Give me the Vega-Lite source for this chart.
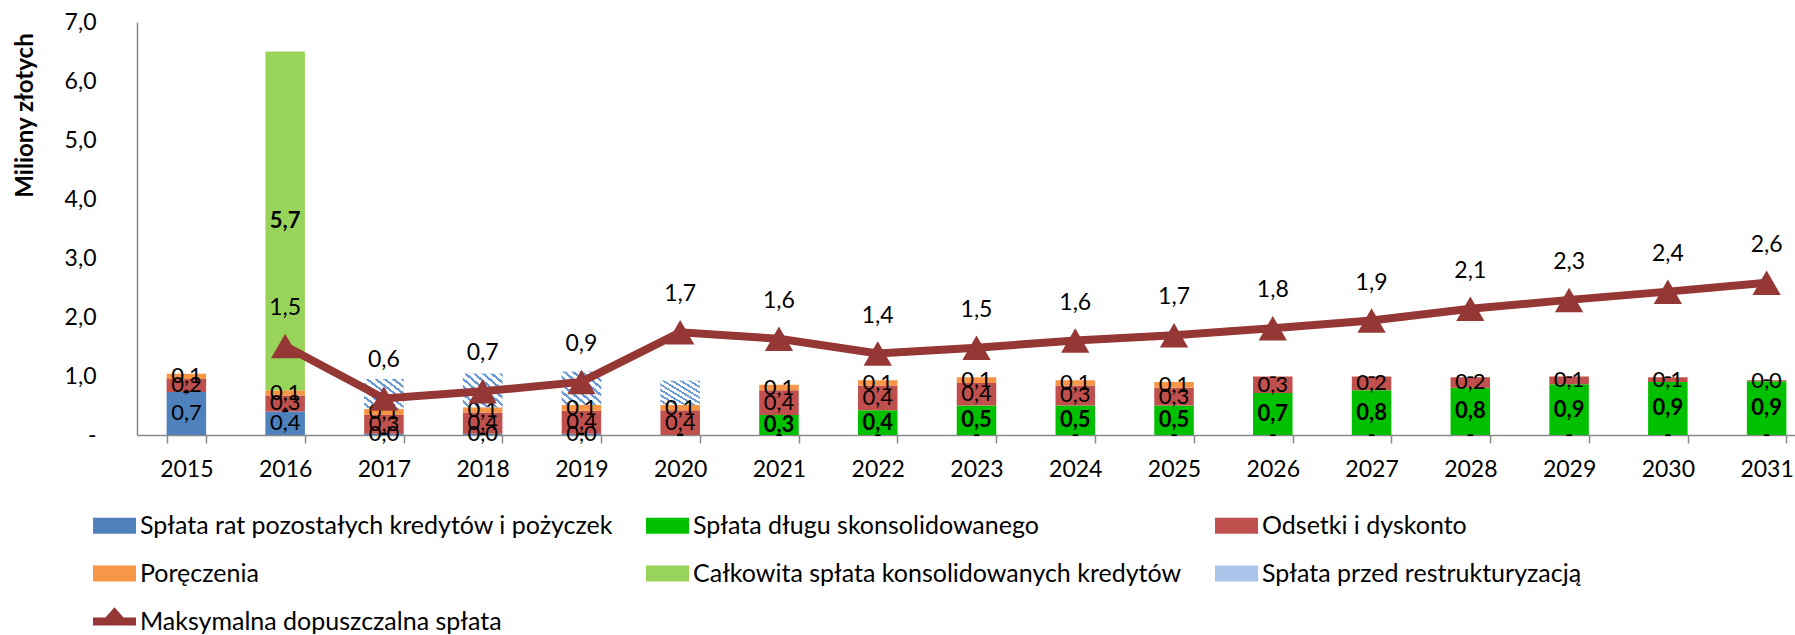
{
  "$schema": "https://vega.github.io/schema/vega-lite/v6.json",
  "width": 1658,
  "height": 413,
  "autosize": {"type": "none"},
  "padding": {"left": 137, "top": 22, "right": 0, "bottom": 200},
  "config": {
    "view": {"stroke": null},
    "font": "Lato",
    "locale": {"number": {"decimal": ",", "thousands": " ", "grouping": [3], "currency": ["", " zł"]}}
  },
  "datasets": {
    "bars": [
      {"year": "2015", "series": "Spłata rat pozostałych kredytów i pożyczek", "ord": 1, "value": 0.73},
      {"year": "2015", "series": "Spłata długu skonsolidowanego", "ord": 2, "value": 0},
      {"year": "2015", "series": "Odsetki i dyskonto", "ord": 3, "value": 0.22},
      {"year": "2015", "series": "Poręczenia", "ord": 4, "value": 0.09},
      {"year": "2015", "series": "Całkowita spłata konsolidowanych kredytów", "ord": 5, "value": 0},
      {"year": "2015", "series": "Spłata przed restrukturyzacją", "ord": 6, "value": 0},
      {"year": "2016", "series": "Spłata rat pozostałych kredytów i pożyczek", "ord": 1, "value": 0.4},
      {"year": "2016", "series": "Spłata długu skonsolidowanego", "ord": 2, "value": 0},
      {"year": "2016", "series": "Odsetki i dyskonto", "ord": 3, "value": 0.27},
      {"year": "2016", "series": "Poręczenia", "ord": 4, "value": 0.09},
      {"year": "2016", "series": "Całkowita spłata konsolidowanych kredytów", "ord": 5, "value": 5.74},
      {"year": "2016", "series": "Spłata przed restrukturyzacją", "ord": 6, "value": 0},
      {"year": "2017", "series": "Spłata rat pozostałych kredytów i pożyczek", "ord": 1, "value": 0.02},
      {"year": "2017", "series": "Spłata długu skonsolidowanego", "ord": 2, "value": 0},
      {"year": "2017", "series": "Odsetki i dyskonto", "ord": 3, "value": 0.32},
      {"year": "2017", "series": "Poręczenia", "ord": 4, "value": 0.1},
      {"year": "2017", "series": "Całkowita spłata konsolidowanych kredytów", "ord": 5, "value": 0},
      {"year": "2017", "series": "Spłata przed restrukturyzacją", "ord": 6, "value": 0.51},
      {"year": "2018", "series": "Spłata rat pozostałych kredytów i pożyczek", "ord": 1, "value": 0.02},
      {"year": "2018", "series": "Spłata długu skonsolidowanego", "ord": 2, "value": 0},
      {"year": "2018", "series": "Odsetki i dyskonto", "ord": 3, "value": 0.36},
      {"year": "2018", "series": "Poręczenia", "ord": 4, "value": 0.09},
      {"year": "2018", "series": "Całkowita spłata konsolidowanych kredytów", "ord": 5, "value": 0},
      {"year": "2018", "series": "Spłata przed restrukturyzacją", "ord": 6, "value": 0.57},
      {"year": "2019", "series": "Spłata rat pozostałych kredytów i pożyczek", "ord": 1, "value": 0.02},
      {"year": "2019", "series": "Spłata długu skonsolidowanego", "ord": 2, "value": 0},
      {"year": "2019", "series": "Odsetki i dyskonto", "ord": 3, "value": 0.39},
      {"year": "2019", "series": "Poręczenia", "ord": 4, "value": 0.1},
      {"year": "2019", "series": "Całkowita spłata konsolidowanych kredytów", "ord": 5, "value": 0},
      {"year": "2019", "series": "Spłata przed restrukturyzacją", "ord": 6, "value": 0.56},
      {"year": "2020", "series": "Spłata rat pozostałych kredytów i pożyczek", "ord": 1, "value": 0},
      {"year": "2020", "series": "Spłata długu skonsolidowanego", "ord": 2, "value": 0},
      {"year": "2020", "series": "Odsetki i dyskonto", "ord": 3, "value": 0.42},
      {"year": "2020", "series": "Poręczenia", "ord": 4, "value": 0.09},
      {"year": "2020", "series": "Całkowita spłata konsolidowanych kredytów", "ord": 5, "value": 0},
      {"year": "2020", "series": "Spłata przed restrukturyzacją", "ord": 6, "value": 0.41},
      {"year": "2021", "series": "Spłata rat pozostałych kredytów i pożyczek", "ord": 1, "value": 0},
      {"year": "2021", "series": "Spłata długu skonsolidowanego", "ord": 2, "value": 0.34},
      {"year": "2021", "series": "Odsetki i dyskonto", "ord": 3, "value": 0.42},
      {"year": "2021", "series": "Poręczenia", "ord": 4, "value": 0.09},
      {"year": "2021", "series": "Całkowita spłata konsolidowanych kredytów", "ord": 5, "value": 0},
      {"year": "2021", "series": "Spłata przed restrukturyzacją", "ord": 6, "value": 0},
      {"year": "2022", "series": "Spłata rat pozostałych kredytów i pożyczek", "ord": 1, "value": 0},
      {"year": "2022", "series": "Spłata długu skonsolidowanego", "ord": 2, "value": 0.42},
      {"year": "2022", "series": "Odsetki i dyskonto", "ord": 3, "value": 0.42},
      {"year": "2022", "series": "Poręczenia", "ord": 4, "value": 0.09},
      {"year": "2022", "series": "Całkowita spłata konsolidowanych kredytów", "ord": 5, "value": 0},
      {"year": "2022", "series": "Spłata przed restrukturyzacją", "ord": 6, "value": 0},
      {"year": "2023", "series": "Spłata rat pozostałych kredytów i pożyczek", "ord": 1, "value": 0},
      {"year": "2023", "series": "Spłata długu skonsolidowanego", "ord": 2, "value": 0.5},
      {"year": "2023", "series": "Odsetki i dyskonto", "ord": 3, "value": 0.38},
      {"year": "2023", "series": "Poręczenia", "ord": 4, "value": 0.1},
      {"year": "2023", "series": "Całkowita spłata konsolidowanych kredytów", "ord": 5, "value": 0},
      {"year": "2023", "series": "Spłata przed restrukturyzacją", "ord": 6, "value": 0},
      {"year": "2024", "series": "Spłata rat pozostałych kredytów i pożyczek", "ord": 1, "value": 0},
      {"year": "2024", "series": "Spłata długu skonsolidowanego", "ord": 2, "value": 0.5},
      {"year": "2024", "series": "Odsetki i dyskonto", "ord": 3, "value": 0.34},
      {"year": "2024", "series": "Poręczenia", "ord": 4, "value": 0.09},
      {"year": "2024", "series": "Całkowita spłata konsolidowanych kredytów", "ord": 5, "value": 0},
      {"year": "2024", "series": "Spłata przed restrukturyzacją", "ord": 6, "value": 0},
      {"year": "2025", "series": "Spłata rat pozostałych kredytów i pożyczek", "ord": 1, "value": 0},
      {"year": "2025", "series": "Spłata długu skonsolidowanego", "ord": 2, "value": 0.5},
      {"year": "2025", "series": "Odsetki i dyskonto", "ord": 3, "value": 0.3},
      {"year": "2025", "series": "Poręczenia", "ord": 4, "value": 0.1},
      {"year": "2025", "series": "Całkowita spłata konsolidowanych kredytów", "ord": 5, "value": 0},
      {"year": "2025", "series": "Spłata przed restrukturyzacją", "ord": 6, "value": 0},
      {"year": "2026", "series": "Spłata rat pozostałych kredytów i pożyczek", "ord": 1, "value": 0},
      {"year": "2026", "series": "Spłata długu skonsolidowanego", "ord": 2, "value": 0.71},
      {"year": "2026", "series": "Odsetki i dyskonto", "ord": 3, "value": 0.28},
      {"year": "2026", "series": "Poręczenia", "ord": 4, "value": 0},
      {"year": "2026", "series": "Całkowita spłata konsolidowanych kredytów", "ord": 5, "value": 0},
      {"year": "2026", "series": "Spłata przed restrukturyzacją", "ord": 6, "value": 0},
      {"year": "2027", "series": "Spłata rat pozostałych kredytów i pożyczek", "ord": 1, "value": 0},
      {"year": "2027", "series": "Spłata długu skonsolidowanego", "ord": 2, "value": 0.76},
      {"year": "2027", "series": "Odsetki i dyskonto", "ord": 3, "value": 0.23},
      {"year": "2027", "series": "Poręczenia", "ord": 4, "value": 0},
      {"year": "2027", "series": "Całkowita spłata konsolidowanych kredytów", "ord": 5, "value": 0},
      {"year": "2027", "series": "Spłata przed restrukturyzacją", "ord": 6, "value": 0},
      {"year": "2028", "series": "Spłata rat pozostałych kredytów i pożyczek", "ord": 1, "value": 0},
      {"year": "2028", "series": "Spłata długu skonsolidowanego", "ord": 2, "value": 0.8},
      {"year": "2028", "series": "Odsetki i dyskonto", "ord": 3, "value": 0.18},
      {"year": "2028", "series": "Poręczenia", "ord": 4, "value": 0},
      {"year": "2028", "series": "Całkowita spłata konsolidowanych kredytów", "ord": 5, "value": 0},
      {"year": "2028", "series": "Spłata przed restrukturyzacją", "ord": 6, "value": 0},
      {"year": "2029", "series": "Spłata rat pozostałych kredytów i pożyczek", "ord": 1, "value": 0},
      {"year": "2029", "series": "Spłata długu skonsolidowanego", "ord": 2, "value": 0.86},
      {"year": "2029", "series": "Odsetki i dyskonto", "ord": 3, "value": 0.13},
      {"year": "2029", "series": "Poręczenia", "ord": 4, "value": 0},
      {"year": "2029", "series": "Całkowita spłata konsolidowanych kredytów", "ord": 5, "value": 0},
      {"year": "2029", "series": "Spłata przed restrukturyzacją", "ord": 6, "value": 0},
      {"year": "2030", "series": "Spłata rat pozostałych kredytów i pożyczek", "ord": 1, "value": 0},
      {"year": "2030", "series": "Spłata długu skonsolidowanego", "ord": 2, "value": 0.9},
      {"year": "2030", "series": "Odsetki i dyskonto", "ord": 3, "value": 0.08},
      {"year": "2030", "series": "Poręczenia", "ord": 4, "value": 0},
      {"year": "2030", "series": "Całkowita spłata konsolidowanych kredytów", "ord": 5, "value": 0},
      {"year": "2030", "series": "Spłata przed restrukturyzacją", "ord": 6, "value": 0},
      {"year": "2031", "series": "Spłata rat pozostałych kredytów i pożyczek", "ord": 1, "value": 0},
      {"year": "2031", "series": "Spłata długu skonsolidowanego", "ord": 2, "value": 0.91},
      {"year": "2031", "series": "Odsetki i dyskonto", "ord": 3, "value": 0.02},
      {"year": "2031", "series": "Poręczenia", "ord": 4, "value": 0},
      {"year": "2031", "series": "Całkowita spłata konsolidowanych kredytów", "ord": 5, "value": 0},
      {"year": "2031", "series": "Spłata przed restrukturyzacją", "ord": 6, "value": 0}
    ],
    "line": [
      {"year": "2016", "series": "Maksymalna dopuszczalna spłata", "value": 1.51},
      {"year": "2017", "series": "Maksymalna dopuszczalna spłata", "value": 0.62},
      {"year": "2018", "series": "Maksymalna dopuszczalna spłata", "value": 0.74},
      {"year": "2019", "series": "Maksymalna dopuszczalna spłata", "value": 0.9},
      {"year": "2020", "series": "Maksymalna dopuszczalna spłata", "value": 1.74},
      {"year": "2021", "series": "Maksymalna dopuszczalna spłata", "value": 1.63},
      {"year": "2022", "series": "Maksymalna dopuszczalna spłata", "value": 1.38},
      {"year": "2023", "series": "Maksymalna dopuszczalna spłata", "value": 1.48},
      {"year": "2024", "series": "Maksymalna dopuszczalna spłata", "value": 1.6},
      {"year": "2025", "series": "Maksymalna dopuszczalna spłata", "value": 1.69},
      {"year": "2026", "series": "Maksymalna dopuszczalna spłata", "value": 1.81},
      {"year": "2027", "series": "Maksymalna dopuszczalna spłata", "value": 1.94},
      {"year": "2028", "series": "Maksymalna dopuszczalna spłata", "value": 2.14},
      {"year": "2029", "series": "Maksymalna dopuszczalna spłata", "value": 2.29},
      {"year": "2030", "series": "Maksymalna dopuszczalna spłata", "value": 2.43},
      {"year": "2031", "series": "Maksymalna dopuszczalna spłata", "value": 2.58}
    ]
  },
  "layer": [
    {
      "data": {"name": "bars"},
      "mark": {"type": "bar"},
      "encoding": {
        "x": {
          "field": "year", "type": "ordinal",
          "scale": {"range": [0, 1679], "paddingInner": 0.6, "paddingOuter": 0.3},
          "axis": {
            "title": null, "labelAngle": 0, "labelFontSize": 23, "labelColor": "#000000", "labelPadding": 15,
            "domainColor": "#898989", "domainWidth": 1.5, "tickColor": "#898989", "tickWidth": 1.5, "tickSize": 8,
            "tickBand": "extent", "grid": false
          }
        },
        "y": {
          "field": "value", "type": "quantitative", "stack": "zero",
          "scale": {"domain": [0, 7], "nice": false},
          "axis": {
            "values": [0, 1, 2, 3, 4, 5, 6, 7], "format": ".1f",
            "labelExpr": "datum.value === 0 ? '-' : datum.label",
            "labelFontSize": 23, "labelColor": "#000000", "labelPadding": 41, "ticks": false, "tickSize": 0, "grid": false,
            "domainColor": "#898989", "domainWidth": 1.5,
            "title": "Miliony złotych", "titleFontSize": 24, "titleFontWeight": "bold", "titleColor": "#000000",
            "titleAngle": -90, "titleAlign": "center", "titleBaseline": "middle", "titleX": -112, "titleY": 93
          }
        },
        "color": {
          "field": "series", "type": "nominal",
          "scale": {
            "domain": ["Spłata rat pozostałych kredytów i pożyczek", "Spłata długu skonsolidowanego", "Odsetki i dyskonto", "Poręczenia", "Całkowita spłata konsolidowanych kredytów", "Spłata przed restrukturyzacją", "Maksymalna dopuszczalna spłata"],
            "range": ["#4F81BD", "#00C000", "#C0504D", "#F79646", "#99D45A", "#A9C5EA", "#953735"]
          },
          "legend": {
            "orient": "none", "legendX": -44, "legendY": 482, "direction": "horizontal", "columns": 3,
            "title": null, "labelFontSize": 25, "labelColor": "#000000", "labelLimit": 0, "labelOffset": 4,
            "columnPadding": 33, "rowPadding": 13, "symbolSize": 1849, "padding": 0,
            "encode": {
              "symbols": {
                "update": {
                  "shape": {"signal": "datum.value === 'Maksymalna dopuszczalna spłata' ? 'M-1,-0.19H-0.42L0,-0.66L0.42,-0.19H1V0.19H-1Z' : 'M-1,-0.37H1V0.37H-1Z'"},
                  "fill": {"signal": "scale('color', datum.value)"},
                  "stroke": {"value": "transparent"},
                  "strokeWidth": {"value": 0},
                  "opacity": {"value": 1},
                  "fillOpacity": {"value": 1},
                  "size": {"value": 1849}
                }
              }
            }
          }
        },
        "order": {"field": "ord", "type": "quantitative"}
      }
    },
    {
      "data": {"name": "bars"},
      "mark": {"type": "bar"},
      "encoding": {
        "x": {"field": "year", "type": "ordinal"},
        "y": {"field": "value", "type": "quantitative", "stack": "zero"},
        "detail": {"field": "series", "type": "nominal"},
        "order": {"field": "ord", "type": "quantitative"},
        "fill": {
          "condition": {
            "test": "datum.ord === 6",
            "value": {"gradient": "linear", "x1": 0, "y1": 1, "x2": 1, "y2": 0, "stops": [
              {"offset": 0, "color": "#ffffff"}, {"offset": 0.0667, "color": "#ffffff"}, {"offset": 0.0667, "color": "#6a9bd8"}, {"offset": 0.1111, "color": "#6a9bd8"},
              {"offset": 0.1111, "color": "#ffffff"}, {"offset": 0.1778, "color": "#ffffff"}, {"offset": 0.1778, "color": "#6a9bd8"}, {"offset": 0.2222, "color": "#6a9bd8"},
              {"offset": 0.2222, "color": "#ffffff"}, {"offset": 0.2889, "color": "#ffffff"}, {"offset": 0.2889, "color": "#6a9bd8"}, {"offset": 0.3333, "color": "#6a9bd8"},
              {"offset": 0.3333, "color": "#ffffff"}, {"offset": 0.4, "color": "#ffffff"}, {"offset": 0.4, "color": "#6a9bd8"}, {"offset": 0.4444, "color": "#6a9bd8"},
              {"offset": 0.4444, "color": "#ffffff"}, {"offset": 0.5111, "color": "#ffffff"}, {"offset": 0.5111, "color": "#6a9bd8"}, {"offset": 0.5556, "color": "#6a9bd8"},
              {"offset": 0.5556, "color": "#ffffff"}, {"offset": 0.6222, "color": "#ffffff"}, {"offset": 0.6222, "color": "#6a9bd8"}, {"offset": 0.6667, "color": "#6a9bd8"},
              {"offset": 0.6667, "color": "#ffffff"}, {"offset": 0.7333, "color": "#ffffff"}, {"offset": 0.7333, "color": "#6a9bd8"}, {"offset": 0.7778, "color": "#6a9bd8"},
              {"offset": 0.7778, "color": "#ffffff"}, {"offset": 0.8444, "color": "#ffffff"}, {"offset": 0.8444, "color": "#6a9bd8"}, {"offset": 0.8889, "color": "#6a9bd8"},
              {"offset": 0.8889, "color": "#ffffff"}, {"offset": 0.9556, "color": "#ffffff"}, {"offset": 0.9556, "color": "#6a9bd8"}, {"offset": 1, "color": "#6a9bd8"}
            ]}
          },
          "value": "transparent"
        }
      }
    },
    {
      "data": {"name": "bars"},
      "mark": {"type": "text", "fontSize": 22, "align": "center", "baseline": "middle", "color": "#000000"},
      "encoding": {
        "x": {"field": "year", "type": "ordinal"},
        "y": {"field": "value", "type": "quantitative", "stack": "zero", "bandPosition": 0.5},
        "detail": {"field": "series", "type": "nominal"},
        "order": {"field": "ord", "type": "quantitative"},
        "text": {"condition": {"test": "datum.value === 0", "value": "-"}, "field": "value", "type": "quantitative", "format": ".1f"},
        "opacity": {"condition": {"test": "datum.ord === 1 || datum.ord === 3 || datum.ord === 4", "value": 1}, "value": 0}
      }
    },
    {
      "data": {"name": "bars"},
      "mark": {"type": "text", "fontSize": 22, "fontWeight": "bold", "align": "center", "baseline": "middle", "color": "#000000"},
      "encoding": {
        "x": {"field": "year", "type": "ordinal"},
        "y": {"field": "value", "type": "quantitative", "stack": "zero", "bandPosition": 0.5},
        "detail": {"field": "series", "type": "nominal"},
        "order": {"field": "ord", "type": "quantitative"},
        "text": {"condition": {"test": "datum.value === 0", "value": "-"}, "field": "value", "type": "quantitative", "format": ".1f"},
        "opacity": {"condition": {"test": "datum.ord === 2 || (datum.ord === 5 && datum.value > 0)", "value": 1}, "value": 0}
      }
    },
    {
      "data": {"name": "line"},
      "mark": {"type": "line", "strokeWidth": 8, "point": {"shape": "triangle-up", "size": 800, "filled": true, "opacity": 1}},
      "encoding": {
        "x": {"field": "year", "type": "ordinal"},
        "y": {"field": "value", "type": "quantitative"},
        "color": {"field": "series", "type": "nominal"}
      }
    },
    {
      "data": {"name": "line"},
      "mark": {"type": "text", "fontSize": 23, "align": "center", "baseline": "middle", "dy": -38, "color": "#000000"},
      "encoding": {
        "x": {"field": "year", "type": "ordinal"},
        "y": {"field": "value", "type": "quantitative"},
        "text": {"field": "value", "type": "quantitative", "format": ".1f"}
      }
    }
  ]
}
